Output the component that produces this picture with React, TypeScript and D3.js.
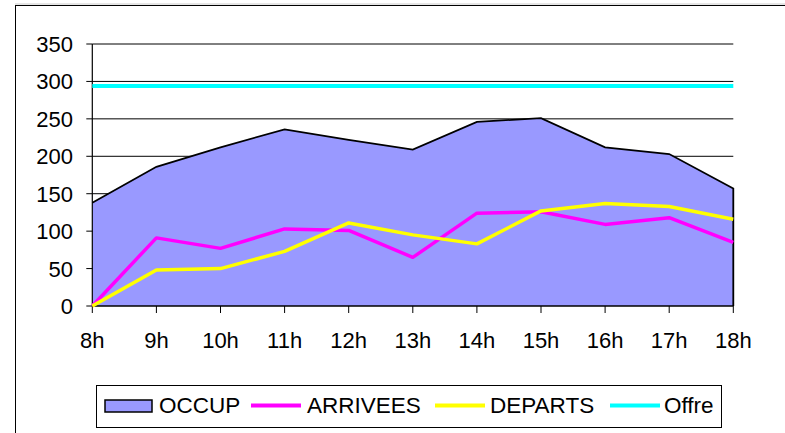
import React from "react";
import * as d3 from "d3";

const categories = ["8h", "9h", "10h", "11h", "12h", "13h", "14h", "15h", "16h", "17h", "18h"];
const occup = [138, 186, 212, 236, 222, 209, 246, 251, 212, 203, 157];
const arrivees = [0, 91, 77, 103, 101, 65, 124, 126, 109, 118, 85];
const departs = [0, 48, 50, 73, 111, 95, 83, 127, 137, 133, 116];
const offre = [294, 294, 294, 294, 294, 294, 294, 294, 294, 294, 294];
const yTicks = [0, 50, 100, 150, 200, 250, 300, 350];

const legendItems = [
  { label: "OCCUP", kind: "area", color: "#9999FF", x: 105, tx: 159 },
  { label: "ARRIVEES", kind: "line", color: "#FF00FF", x: 251, tx: 307 },
  { label: "DEPARTS", kind: "line", color: "#FFFF00", x: 435, tx: 490 },
  { label: "Offre", kind: "line", color: "#00FFFF", x: 610, tx: 664 },
];

export default function App() {
  const W = 785, H = 433;
  const left = 92.3, right = 733.3, top = 44, bottom = 306;
  const x = d3.scalePoint<string>().domain(categories).range([left, right]);
  const y = d3.scaleLinear().domain([0, 350]).range([bottom, top]);
  const font = "'Liberation Sans', Arial, sans-serif";

  const area = d3
    .area<number>()
    .x((_, i) => x(categories[i])!)
    .y0(y(0))
    .y1((d) => y(d));
  const line = d3
    .line<number>()
    .x((_, i) => x(categories[i])!)
    .y((d) => y(d));

  const outline =
    line(occup)! + `L${x(categories[categories.length - 1])},${y(0)}`;

  return (
    <div style={{ position: "absolute", left: 0, top: 0 }}>
      <svg width={W} height={H} style={{ display: "block" }} fontFamily={font}>
        <rect width={W} height={H} fill="#fff" />
        <line x1={15} y1={4} x2={W} y2={4} stroke="#ccc" strokeWidth={1} />
        <rect x={15.5} y={5.5} width={W} height={H} fill="none" stroke="#000" strokeWidth={1} />
        {/* grid */}
        {yTicks.slice(1).map((t) => (
          <line key={t} x1={left} x2={right} y1={y(t)} y2={y(t)} stroke="#000" strokeWidth={1} />
        ))}
        {/* area */}
        <path d={area(occup)!} fill="#9999FF" />
        <path d={outline} fill="none" stroke="#000" strokeWidth={1.8} strokeLinejoin="miter" />
        {/* axes */}
        <line x1={left} x2={left} y1={top} y2={bottom} stroke="#000" strokeWidth={1.2} />
        <line x1={left} x2={right} y1={bottom} y2={bottom} stroke="#000" strokeWidth={1.5} />
        {yTicks.map((t) => (
          <g key={t}>
            <line x1={left - 6} x2={left} y1={y(t)} y2={y(t)} stroke="#000" strokeWidth={1} />
            <text x={73} y={y(t) + 8} textAnchor="end" fontSize={22} fill="#000">
              {t}
            </text>
          </g>
        ))}
        {categories.map((c) => (
          <g key={c}>
            <line x1={x(c)} x2={x(c)} y1={bottom} y2={bottom + 7} stroke="#000" strokeWidth={1} />
            <text x={x(c)} y={348} textAnchor="middle" fontSize={22} fill="#000">
              {c}
            </text>
          </g>
        ))}
        {/* lines */}
        <path d={line(offre)!} fill="none" stroke="#00FFFF" strokeWidth={4} />
        <path d={line(arrivees)!} fill="none" stroke="#FF00FF" strokeWidth={3.5} strokeLinejoin="round" />
        <path d={line(departs)!} fill="none" stroke="#FFFF00" strokeWidth={3.5} strokeLinejoin="round" />
        {/* legend */}
        <rect x={96.5} y={385.5} width={625} height={42} fill="#fff" stroke="#000" strokeWidth={1} />
        {legendItems.map((it) => (
          <g key={it.label}>
            {it.kind === "area" ? (
              <rect x={it.x} y={400} width={47} height={12} fill={it.color} stroke="#000" strokeWidth={1.5} />
            ) : (
              <line x1={it.x} x2={it.x + 50} y1={405.5} y2={405.5} stroke={it.color} strokeWidth={4} />
            )}
            <text x={it.tx} y={413} fontSize={22.5} fill="#000">
              {it.label}
            </text>
          </g>
        ))}
      </svg>
    </div>
  );
}
